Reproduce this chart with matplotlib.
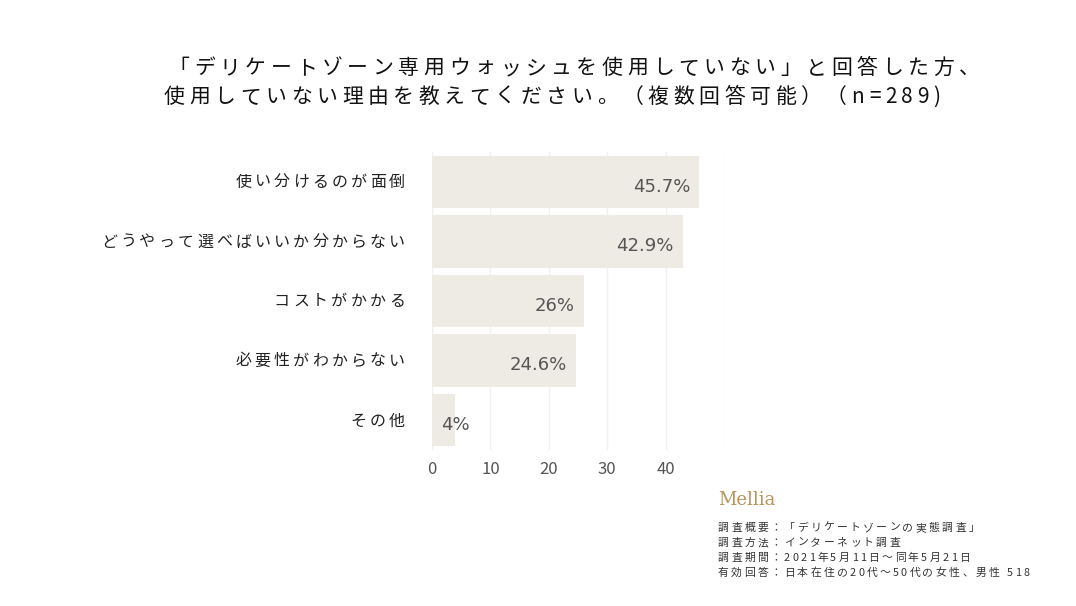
import matplotlib
matplotlib.use("Agg")
import matplotlib.pyplot as plt
from matplotlib.font_manager import FontProperties

categories = ["使い分けるのが面倒", "どうやって選べばいいか分からない", "コストがかかる", "必要性がわからない", "その他"]
values = [45.7, 42.9, 26, 24.6, 4]
value_labels = ["45.7%", "42.9%", "26%", "24.6%", "4%"]
xticks = [0, 10, 20, 30, 40]
title_lines = ["「デリケートゾーン専用ウォッシュを使用していない」と回答した方、",
               "使用していない理由を教えてください。（複数回答可能）（n=289)"]
notes = ["調査概要：「デリケートゾーンの実態調査」", "調査方法：インターネット調査",
         "調査期間：2021年5月11日〜同年5月21日", "有効回答：日本在住の20代〜50代の女性、男性 518"]

W, H = 1076, 606
plt.rcParams["font.family"] = "Noto Sans CJK JP"
fig = plt.figure(figsize=(W/100, H/100), dpi=100)
renderer = fig.canvas.get_renderer()

def spaced(x, y, s, size, gap, ha="left", color="#222222"):
    fp = FontProperties(family="Noto Sans CJK JP", size=size)
    ws = [renderer.get_text_width_height_descent(c, fp, ismath=False)[0] if c != " "
          else size * 0.35 for c in s]
    total = sum(ws) + gap * (len(s) - 1)
    if ha == "right":
        x0 = x - total
    elif ha == "center":
        x0 = x - total / 2
    else:
        x0 = x
    for c, w in zip(s, ws):
        fig.text(x0 / W, 1 - y / H, c, fontproperties=fp, color=color, ha="left", va="center")
        x0 += w + gap

ax = fig.add_axes([432/W, 1-450/H, 292/W, 298/H])
y = list(range(len(categories)))
ax.barh(y, values, height=0.88, color="#eeebe4", zorder=2)
ax.set_ylim(len(categories)-0.5, -0.5)
ax.set_xlim(0, 50)
ax.set_xticks(xticks)
ax.set_xticklabels([str(t) for t in xticks], color="#555555", fontsize=12)
ax.set_yticks(y)
ax.set_yticklabels([])
ax.tick_params(length=0)
ax.tick_params(axis="x", pad=8)
for s in ax.spines.values():
    s.set_visible(False)
ax.xaxis.grid(True, color="#f0f0f0", lw=1, zorder=0)
for yi, v, lab in zip(y, values, value_labels):
    xpos = v - 1.5 if v > 10 else v + 2.5
    ax.text(xpos, yi + 0.08, lab, ha="right", va="center", fontsize=13, color="#555555",
            family="DejaVu Sans", zorder=3)
ax.axvline(50, color="#f0f0f0", lw=1)

row_px = [182, 242, 301, 361, 421]
for c, ry in zip(categories, row_px):
    spaced(405, ry, c, 11.5, 3.2, ha="right")

spaced(574, 68, title_lines[0], 15, 4.6, ha="center", color="#111111")
spaced(552, 97, title_lines[1], 15, 4.6, ha="center", color="#111111")

fig.text(718/W, 1-500/H, "Mellia", fontsize=13, color="#b8935a", family="DejaVu Serif", va="center")
for i, n in enumerate(notes):
    spaced(718, 528 + 15*i, n, 7.8, 2.3, color="#333333")
fig.savefig("out.png", dpi=100)
